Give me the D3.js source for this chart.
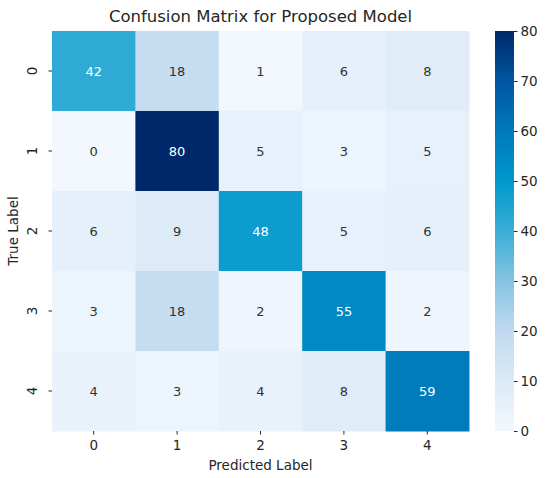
<!DOCTYPE html>
<html>
<head>
<meta charset="utf-8">
<script src="https://cdn.jsdelivr.net/npm/d3@7"></script>
<style>
  body { margin: 0; background: #fff; }
  text { font-family: "DejaVu Sans", sans-serif; fill: #262626; }
</style>
</head>
<body>
<div id="chart"></div>
<script>
// data
var trueLabels = ['0', '1', '2', '3', '4'];
var predLabels = ['0', '1', '2', '3', '4'];
var counts = [
  [42, 18, 1, 6, 8],
  [0, 80, 5, 3, 5],
  [6, 9, 48, 5, 6],
  [3, 18, 2, 55, 2],
  [4, 3, 4, 8, 59]
];
var colorTicks = [0, 10, 20, 30, 40, 50, 60, 70, 80];
var titleText = 'Confusion Matrix for Proposed Model';
var xTitle = 'Predicted Label';
var yTitle = 'True Label';

var W = 550, H = 478;
var m = { left: 52, top: 31, right: 81, bottom: 47 };
var iw = W - m.left - m.right, ih = H - m.top - m.bottom;

var svg = d3.select('#chart').append('svg')
  .attr('width', W).attr('height', H);

var x = d3.scaleBand().domain(predLabels).range([0, iw]);
var y = d3.scaleBand().domain(trueLabels).range([0, ih]);

// colormap stops
var stops = ['#f3f8fe', '#dbeaf7', '#c0d9ef', '#86c3e2', '#3aaed8', '#0098cb', '#0079bb', '#0057a0', '#00296b'];
var color = d3.scaleLinear()
  .domain(d3.range(stops.length).map(function (i) { return i * 80 / (stops.length - 1); }))
  .range(stops)
  .interpolate(d3.interpolateRgb);

var g = svg.append('g').attr('transform', 'translate(' + m.left + ',' + m.top + ')');

var cells = [];
counts.forEach(function (row, i) {
  row.forEach(function (v, j) {
    cells.push({ t: trueLabels[i], p: predLabels[j], v: v });
  });
});

g.selectAll('.cell')
  .data(cells)
  .enter().append('rect')
  .attr('class', 'cell')
  .attr('x', function (d) { return x(d.p); })
  .attr('y', function (d) { return y(d.t); })
  .attr('width', x.bandwidth() + 0.5)
  .attr('height', y.bandwidth() + 0.5)
  .attr('fill', function (d) { return color(d.v); });

g.selectAll('.annot')
  .data(cells)
  .enter().append('text')
  .attr('class', 'annot')
  .attr('x', function (d) { return x(d.p) + x.bandwidth() / 2; })
  .attr('y', function (d) { return y(d.t) + y.bandwidth() / 2; })
  .attr('dy', '0.35em')
  .attr('text-anchor', 'middle')
  .style('font-size', '13px')
  .style('fill', function (d) { return d.v > 40 ? '#ffffff' : '#333333'; })
  .text(function (d) { return d.v; });

// axes
var xAxis = g.append('g')
  .attr('transform', 'translate(0,' + ih + ')')
  .call(d3.axisBottom(x).tickSize(3.5).tickPadding(6));
xAxis.select('.domain').remove();
xAxis.selectAll('line').attr('stroke', '#262626');
xAxis.selectAll('text').style('font-size', '13.5px').style('fill', '#262626')
  .style('font-family', '"DejaVu Sans", sans-serif');

var yAxis = g.append('g')
  .call(d3.axisLeft(y).tickSize(3.5).tickPadding(4));
yAxis.select('.domain').remove();
yAxis.selectAll('line').attr('stroke', '#262626');
yAxis.selectAll('text')
  .style('font-size', '13.5px').style('fill', '#262626')
  .style('font-family', '"DejaVu Sans", sans-serif')
  .attr('text-anchor', 'middle')
  .attr('dy', null)
  .attr('x', 0).attr('y', 0)
  .attr('transform', 'translate(-20,0) rotate(-90)')
  .attr('dominant-baseline', 'central');

// colorbar
var cbX = m.left + iw + 26, cbW = 19;
var cy = d3.scaleLinear().domain([0, 80]).range([m.top + ih, m.top]);
var defs = svg.append('defs');
var grad = defs.append('linearGradient').attr('id', 'cbg')
  .attr('x1', 0).attr('y1', 1).attr('x2', 0).attr('y2', 0);
stops.forEach(function (s, i) {
  grad.append('stop').attr('offset', i / (stops.length - 1)).attr('stop-color', s);
});
svg.append('rect')
  .attr('x', cbX).attr('y', m.top)
  .attr('width', cbW).attr('height', ih)
  .attr('fill', 'url(#cbg)');
var cAxis = svg.append('g')
  .attr('transform', 'translate(' + (cbX + cbW) + ',0)')
  .call(d3.axisRight(cy).tickValues(colorTicks).tickSize(3.5).tickPadding(3));
cAxis.select('.domain').remove();
cAxis.selectAll('line').attr('stroke', '#262626');
cAxis.selectAll('text').style('font-size', '13.5px').style('fill', '#262626')
  .style('font-family', '"DejaVu Sans", sans-serif');

// titles
svg.append('text')
  .attr('x', m.left + iw / 2).attr('y', 22)
  .attr('text-anchor', 'middle')
  .style('font-size', '16.5px')
  .text(titleText);

svg.append('text')
  .attr('x', m.left + iw / 2).attr('y', 470)
  .attr('text-anchor', 'middle')
  .style('font-size', '13.5px')
  .text(xTitle);

svg.append('text')
  .attr('transform', 'translate(18,' + (m.top + ih / 2) + ') rotate(-90)')
  .attr('text-anchor', 'middle')
  .style('font-size', '13.5px')
  .text(yTitle);
</script>
</body>
</html>
